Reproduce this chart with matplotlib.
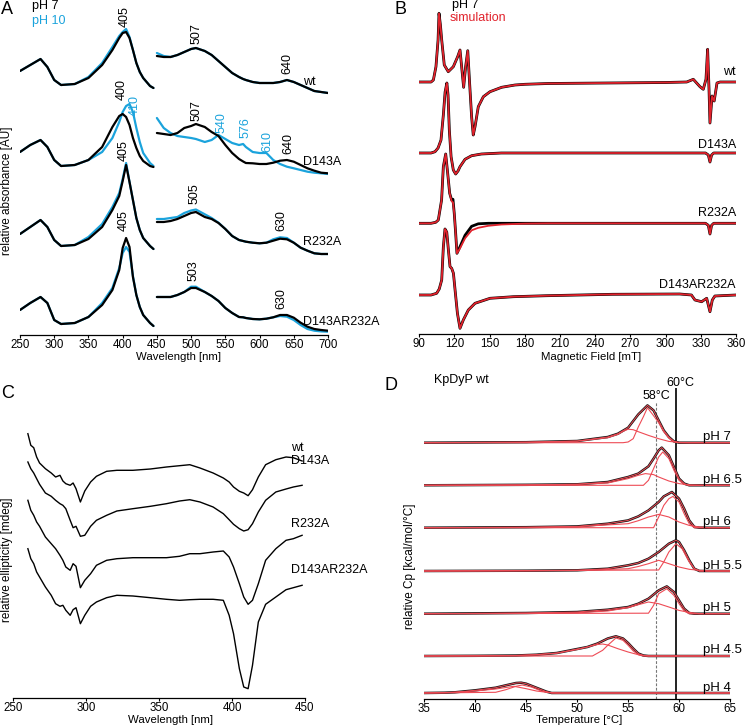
import matplotlib
matplotlib.use("Agg")
import matplotlib.pyplot as plt

plt.rcParams['font.family'] = ['Liberation Sans', 'DejaVu Sans']
plt.rcParams['font.size'] = 9

BLUE = '#1BA3DC'
RED = '#E1222C'
FIT = '#EE4B55'

# ---- A: UV-vis absorbance (pH 7 black, pH 10 blue) ----
uv_nm = [250, 265, 280, 290, 300, 310, 330, 350, 370, 385, 395, 400, 405, 410, 415, 420, 425, 430, 440, 445]
vis_nm = [450, 460, 470, 480, 490, 500, 507, 520, 530, 540, 550, 560, 570, 576, 580, 590, 600, 610,
          620, 630, 640, 650, 660, 670, 680, 690, 700]

wt_uv_ph7 = [0.19, 0.25, 0.31, 0.23, 0.10, 0.05, 0.06, 0.12, 0.25, 0.40, 0.52, 0.57, 0.58, 0.52, 0.40, 0.27, 0.18, 0.12, 0.04, 0.02]
wt_uv_ph10 = [0.19, 0.25, 0.31, 0.23, 0.10, 0.05, 0.06, 0.13, 0.27, 0.43, 0.54, 0.58, 0.61, 0.53, 0.40, 0.27, 0.18, 0.12, 0.04, 0.02]
wt_vis_ph7 = [0.34, 0.33, 0.33, 0.35, 0.38, 0.41, 0.42, 0.39, 0.35, 0.29, 0.23, 0.17, 0.13, 0.11, 0.10, 0.08, 0.07, 0.07,
              0.07, 0.08, 0.10, 0.08, 0.05, 0.02, -0.01, -0.02, -0.03]
wt_vis_ph10 = [0.37, 0.34, 0.33, 0.35, 0.38, 0.41, 0.42, 0.39, 0.35, 0.29, 0.23, 0.17, 0.13, 0.11, 0.10, 0.08, 0.07, 0.07,
               0.07, 0.08, 0.10, 0.08, 0.05, 0.02, -0.01, -0.02, -0.03]

d_uv_ph7 = [0.18, 0.25, 0.30, 0.23, 0.10, 0.04, 0.05, 0.10, 0.23, 0.43, 0.54, 0.56, 0.53, 0.45, 0.32, 0.22, 0.14, 0.09, 0.04, 0.03]
d_uv_ph10 = [0.18, 0.25, 0.30, 0.23, 0.10, 0.04, 0.05, 0.10, 0.18, 0.32, 0.48, 0.58, 0.64, 0.66, 0.58, 0.42, 0.28, 0.17, 0.07, 0.04]
d_vis_ph7 = [0.37, 0.36, 0.35, 0.37, 0.42, 0.44, 0.46, 0.43, 0.38, 0.34, 0.25, 0.17, 0.11, 0.085, 0.07, 0.067, 0.06, 0.06,
             0.073, 0.093, 0.10, 0.083, 0.05, 0.017, -0.007, -0.027, -0.033]
d_vis_ph10 = [0.52, 0.42, 0.37, 0.34, 0.33, 0.32, 0.31, 0.28, 0.30, 0.35, 0.31, 0.27, 0.25, 0.26, 0.23, 0.18, 0.17, 0.17,
              0.10, 0.06, 0.033, 0.017, 0.0, -0.017, -0.027, -0.033, -0.04]

r_uv_ph7 = [0.16, 0.23, 0.30, 0.23, 0.10, 0.04, 0.05, 0.11, 0.23, 0.40, 0.54, 0.69, 0.85, 0.68, 0.50, 0.32, 0.20, 0.12, 0.04, 0.01]
r_uv_ph10 = [0.16, 0.23, 0.30, 0.23, 0.10, 0.04, 0.05, 0.13, 0.26, 0.43, 0.57, 0.71, 0.87, 0.68, 0.50, 0.32, 0.20, 0.12, 0.04, 0.01]
r_vis_ph7 = [0.28, 0.28, 0.29, 0.31, 0.34, 0.37, 0.38, 0.33, 0.31, 0.27, 0.21, 0.14, 0.10, 0.09, 0.083, 0.073, 0.067, 0.073,
             0.093, 0.113, 0.107, 0.073, 0.023, -0.007, -0.033, -0.04, -0.04]
r_vis_ph10 = [0.31, 0.31, 0.32, 0.33, 0.37, 0.395, 0.405, 0.357, 0.32, 0.273, 0.21, 0.14, 0.10, 0.09, 0.083, 0.073, 0.067, 0.073,
              0.107, 0.127, 0.12, 0.073, 0.023, -0.007, -0.033, -0.04, -0.04]

dr_uv_ph7 = [0.22, 0.29, 0.35, 0.29, 0.12, 0.08, 0.09, 0.15, 0.27, 0.42, 0.62, 0.84, 0.94, 0.85, 0.55, 0.37, 0.25, 0.17, 0.09, 0.06]
dr_uv_ph10 = [0.22, 0.29, 0.35, 0.29, 0.12, 0.08, 0.09, 0.15, 0.29, 0.44, 0.64, 0.79, 0.85, 0.80, 0.56, 0.37, 0.25, 0.17, 0.09, 0.06]
dr_vis_ph7 = [0.35, 0.35, 0.35, 0.37, 0.40, 0.44, 0.44, 0.40, 0.36, 0.31, 0.24, 0.19, 0.15, 0.147, 0.14, 0.13, 0.127, 0.133,
              0.147, 0.17, 0.17, 0.143, 0.093, 0.053, 0.03, 0.02, 0.013]
dr_vis_ph10 = [0.35, 0.35, 0.35, 0.37, 0.40, 0.453, 0.453, 0.40, 0.36, 0.31, 0.24, 0.19, 0.15, 0.147, 0.14, 0.13, 0.127, 0.133,
               0.147, 0.16, 0.153, 0.12, 0.07, 0.03, 0.013, 0.006, 0.003]

# ---- B: EPR spectra (experiment black, simulation red) ----
epr_wt_mT = [90, 100, 102, 104.2, 106, 106.8, 108, 109.1, 111.3, 114.7, 119, 122.7, 124.7, 126.1, 127.8, 129.5, 131.3,
             132.9, 134.6, 136, 137.5, 140.3, 144.6, 150.3, 160.2, 171.6, 180, 200, 250, 300, 318, 323.6, 329.3,
             332.1, 334.4, 335.8, 337, 337.8, 339.6, 341.4, 343.8, 346.4, 360]
epr_wt = [0, 0, 0.02, 0.153, 0.42, 0.687, 0.57, 0.42, 0.17, 0.103, 0.153, 0.253, 0.32, 0.153, -0.053, 0.153, 0.313,
          -0.013, -0.347, -0.53, -0.447, -0.247, -0.147, -0.097, -0.053, -0.03, -0.023, -0.015, -0.01, -0.005, 0, 0.027,
          -0.047, -0.073, 0.027, 0.327, -0.073, -0.41, -0.14, -0.19, -0.01, 0, 0]

epr_d_mT = [90, 100, 103.4, 106, 108.5, 110.5, 112, 113.5, 114.5, 115.6, 117.1, 119, 121, 123, 124.7, 129, 134.6, 143,
            160, 334, 336.4, 337.8, 339.2, 341, 360]
epr_d = [0, 0, 0.013, 0.05, 0.13, 0.38, 0.61, 0.70, 0.58, 0.23, -0.037, -0.17, -0.21, -0.18, -0.137, -0.063, -0.027,
         -0.01, 0, 0, -0.02, -0.09, -0.02, 0, 0]

epr_r_mT = [90, 100, 104, 106.2, 109, 110.5, 112.5, 114.2, 115.9, 117.6, 118.7, 119.8, 121, 122.1, 124.7, 129, 134.6,
            140.3, 148.8, 160, 180, 200, 334, 336.4, 337.8, 339.2, 341, 360]
epr_r_exp = [0, 0, 0.01, 0.033, 0.233, 0.567, 0.693, 0.5, 0.3, 0.233, 0.24, 0.1, -0.1, -0.3, -0.234, -0.12, -0.03,
             -0.005, 0, 0, 0, 0, 0, -0.02, -0.107, -0.02, 0, 0]
epr_r_sim = [0, 0, 0.01, 0.033, 0.233, 0.567, 0.693, 0.5, 0.3, 0.22, 0.21, 0.1, -0.1, -0.3, -0.25, -0.15, -0.07,
             -0.045, -0.025, -0.012, -0.003, 0, 0, -0.02, -0.107, -0.02, 0, 0]

epr_dr_mT = [90, 100, 104.8, 107, 109.1, 110.5, 111.9, 113.4, 114.8, 116.2, 117.6, 119.1, 120.5, 122.5, 124.7, 127.5,
             131.8, 137.5, 150.3, 170.2, 198.6, 255, 312, 322, 325, 330.7, 335, 337.8, 339.8, 342, 360]
epr_dr = [0, 0, 0.017, 0.06, 0.15, 0.48, 0.66, 0.63, 0.45, 0.283, 0.267, 0.217, 0.05, -0.183, -0.333, -0.25, -0.15,
          -0.083, -0.033, -0.017, -0.007, 0.007, 0.01, 0, -0.05, -0.067, -0.033, -0.167, -0.05, -0.01, 0]

# ---- C: CD spectra ----
cd_nm = [260, 262, 264, 266, 268, 272, 276, 279, 282, 284, 286, 289, 291, 293, 296, 299, 303, 307, 314, 321,
         332, 344, 355, 364, 371, 378, 387, 394, 398, 401, 405, 408, 411, 414, 418, 423, 430, 437, 442, 448]
cd_wt = [0.633, 0.517, 0.493, 0.40, 0.34, 0.283, 0.24, 0.20, 0.217, 0.16, 0.133, 0.117, 0.14, 0.083, -0.05, 0.06,
         0.15, 0.207, 0.257, 0.267, 0.267, 0.28, 0.30, 0.313, 0.323, 0.29, 0.24, 0.19, 0.15, 0.10, 0.057, 0.04,
         0.013, 0.073, 0.20, 0.323, 0.373, 0.40, 0.393, 0.36]
cd_d143a = [0.80, 0.733, 0.69, 0.633, 0.577, 0.49, 0.457, 0.417, 0.383, 0.367, 0.333, 0.217, 0.143, 0.157, 0.057,
            0.067, 0.157, 0.217, 0.267, 0.31, 0.333, 0.357, 0.383, 0.41, 0.423, 0.40, 0.35, 0.283, 0.223, 0.177,
            0.133, 0.11, 0.123, 0.183, 0.30, 0.417, 0.50, 0.53, 0.55, 0.567]
cd_r232a = [0.867, 0.767, 0.717, 0.65, 0.607, 0.50, 0.433, 0.383, 0.317, 0.267, 0.20, 0.167, 0.233, 0.207, -0.007,
            0.067, 0.133, 0.217, 0.267, 0.283, 0.293, 0.293, 0.293, 0.307, 0.333, 0.333, 0.35, 0.36, 0.30, 0.20,
            0.033, -0.10, -0.173, -0.133, 0.033, 0.267, 0.383, 0.467, 0.483, 0.517]
cd_dr = [1.383, 1.283, 1.233, 1.15, 1.10, 1.00, 0.917, 0.833, 0.807, 0.817, 0.767, 0.717, 0.773, 0.793, 0.633,
         0.717, 0.807, 0.85, 0.893, 0.917, 0.91, 0.893, 0.877, 0.867, 0.873, 0.877, 0.877, 0.867, 0.717, 0.533,
         0.183, 0.0, -0.017, 0.217, 0.65, 0.827, 0.90, 0.973, 0.993, 1.017]

# ---- D: DSC thermograms (total + two fitted components) ----
ph7_T = [35, 45, 47, 50, 53, 54, 55, 56, 56.9, 57.5, 58, 58.5, 59, 59.5, 60, 65]
ph7_cp = [0, 0.005, 0.01, 0.017, 0.057, 0.09, 0.15, 0.283, 0.373, 0.323, 0.223, 0.123, 0.057, 0.013, 0, 0]
ph7_Tb = [35, 45, 50, 53, 54, 54.5, 55, 55.5, 56, 57, 58, 59, 60, 61, 65]
ph7_b = [0, 0.005, 0.015, 0.05, 0.083, 0.113, 0.135, 0.13, 0.11, 0.073, 0.04, 0.013, 0.003, 0, 0]
ph7_Tn = [35, 54.5, 55, 55.5, 56, 56.5, 56.9, 57.5, 58, 58.5, 59, 59.5, 60, 65]
ph7_n = [0, 0, 0.007, 0.04, 0.157, 0.26, 0.35, 0.27, 0.20, 0.11, 0.045, 0.01, 0, 0]

ph65_T = [35, 45, 50, 53, 55, 56, 57, 57.5, 58, 58.3, 59, 59.5, 60, 60.5, 61, 65]
ph65_cp = [0, 0.005, 0.01, 0.033, 0.083, 0.117, 0.19, 0.267, 0.35, 0.377, 0.30, 0.183, 0.067, 0.017, 0, 0]
ph65_Tb = [35, 45, 50, 53, 55, 56, 56.7, 57.5, 58, 59, 60, 61, 62, 65]
ph65_b = [0, 0.003, 0.01, 0.023, 0.067, 0.1, 0.117, 0.107, 0.083, 0.043, 0.017, 0.003, 0, 0]
ph65_Tn = [35, 56.5, 57, 57.5, 58, 58.4, 59, 59.5, 60, 60.5, 61, 65]
ph65_n = [0, 0, 0.05, 0.167, 0.283, 0.333, 0.267, 0.15, 0.05, 0.01, 0, 0]

ph6_T = [35, 45, 50, 53, 55, 56, 57, 58, 58.5, 59.3, 60, 60.5, 61, 61.5, 62, 65]
ph6_cp = [0, 0.005, 0.013, 0.04, 0.073, 0.113, 0.173, 0.257, 0.313, 0.357, 0.29, 0.19, 0.073, 0.007, 0, 0]
ph6_Tb = [35, 45, 50, 55, 56, 57, 58, 59, 60, 61, 62, 63, 65]
ph6_b = [0, 0.003, 0.01, 0.04, 0.07, 0.107, 0.133, 0.107, 0.057, 0.023, 0.007, 0, 0]
ph6_Tn = [35, 57.5, 58, 58.5, 59, 59.4, 60, 60.5, 61, 61.5, 65]
ph6_n = [0, 0, 0.107, 0.223, 0.29, 0.313, 0.257, 0.14, 0.04, 0, 0]

ph55_T = [35, 45, 50, 53, 55, 56, 57, 58, 59, 59.7, 60, 60.5, 61, 61.5, 62, 65]
ph55_cp = [0, 0.003, 0.007, 0.023, 0.057, 0.08, 0.123, 0.19, 0.273, 0.307, 0.29, 0.207, 0.107, 0.023, 0, 0]
ph55_Tb = [35, 45, 50, 55, 56, 57, 58, 59, 60, 61, 62, 63, 65]
ph55_b = [0, 0.002, 0.005, 0.023, 0.045, 0.073, 0.107, 0.073, 0.04, 0.017, 0.007, 0, 0]
ph55_Tn = [35, 58, 58.5, 59, 59.7, 60.3, 61, 61.5, 62, 65]
ph55_n = [0, 0.01, 0.09, 0.19, 0.273, 0.223, 0.09, 0.023, 0, 0]

ph5_T = [35, 45, 50, 53, 55, 56, 57, 58, 58.8, 59.5, 60, 60.5, 61, 61.5, 65]
ph5_cp = [0, 0.007, 0.017, 0.04, 0.067, 0.10, 0.15, 0.233, 0.273, 0.217, 0.133, 0.05, 0.007, 0, 0]
ph5_Tb = [35, 45, 50, 53, 55, 56, 57, 58, 59, 60, 61, 62, 65]
ph5_b = [0, 0.004, 0.01, 0.027, 0.06, 0.09, 0.117, 0.10, 0.067, 0.033, 0.013, 0, 0]
ph5_Tn = [35, 57, 57.5, 58, 58.8, 59.5, 60, 60.5, 61, 65]
ph5_n = [0, 0.005, 0.083, 0.20, 0.25, 0.183, 0.10, 0.027, 0, 0]

ph45_T = [35, 40, 44, 46, 48, 50, 51, 52, 53, 53.8, 54.5, 55, 55.5, 56, 56.5, 57, 65]
ph45_cp = [0, 0.002, 0.005, 0.013, 0.03, 0.07, 0.09, 0.125, 0.175, 0.197, 0.175, 0.13, 0.075, 0.025, 0.005, 0, 0]
ph45_Tb = [35, 40, 44, 46, 48, 50, 51, 52, 52.5, 53, 54, 55, 56, 57, 65]
ph45_b = [0, 0.002, 0.005, 0.013, 0.028, 0.065, 0.09, 0.115, 0.12, 0.11, 0.073, 0.04, 0.013, 0, 0]
ph45_Tn = [35, 51.5, 52.5, 53, 53.8, 54.5, 55, 55.5, 56, 56.5, 65]
ph45_n = [0, 0, 0.057, 0.107, 0.18, 0.157, 0.107, 0.05, 0.013, 0, 0]

ph4_T = [35, 37, 38, 40, 42, 43, 44, 44.5, 45, 46, 47, 47.5, 65]
ph4_cp = [0, 0.003, 0.007, 0.027, 0.053, 0.077, 0.10, 0.103, 0.093, 0.053, 0.013, 0, 0]
ph4_Tb = [35, 37, 40, 42, 43.8, 45, 46, 47, 48, 65]
ph4_b = [0, 0.003, 0.02, 0.04, 0.067, 0.043, 0.02, 0.007, 0, 0]
ph4_Tn = [35, 42, 43, 44, 44.6, 45.5, 46.5, 47.5, 65]
ph4_n = [0, 0.007, 0.033, 0.067, 0.08, 0.06, 0.02, 0, 0]

W, H = 745, 727
fig = plt.figure(figsize=(W / 100, H / 100), dpi=100)


def box(x0, x1, ytop, ybot):
    return [x0 / W, 1 - ybot / H, (x1 - x0) / W, (ybot - ytop) / H]


def style(ax):
    for s in ('left', 'right', 'top'):
        ax.spines[s].set_visible(False)
    ax.spines['bottom'].set_linewidth(0.9)
    ax.set_yticks([])
    ax.tick_params(axis='x', direction='out', length=2.5, width=0.8, pad=0.3, labelsize=8.3)
    ax.patch.set_alpha(0)


def xlabel(xc, yc, s):
    fig.text(xc / W, 1 - yc / H, s, ha='center', va='center', fontsize=8.2)


# Panel A
axA = fig.add_axes(box(20, 328, 0, 335))
style(axA)
axA.set_xlim(250, 700)
axA.set_ylim(0, 3.35)
axA.set_xticks(range(250, 701, 50))
xlabel(179, 357.5, 'Wavelength [nm]')

a_traces = [
    (2.45, wt_uv_ph7, wt_uv_ph10, wt_vis_ph7, wt_vis_ph10),
    (1.65, d_uv_ph7, d_uv_ph10, d_vis_ph7, d_vis_ph10),
    (0.85, r_uv_ph7, r_uv_ph10, r_vis_ph7, r_vis_ph10),
    (0.03, dr_uv_ph7, dr_uv_ph10, dr_vis_ph7, dr_vis_ph10),
]
for off, uv7, uv10, vis7, vis10 in a_traces:
    axA.plot(uv_nm, [off + v for v in uv10], color=BLUE, lw=1.6, solid_capstyle='round')
    axA.plot(vis_nm, [off + v for v in vis10], color=BLUE, lw=1.6, solid_capstyle='round')
    axA.plot(uv_nm, [off + v for v in uv7], color='black', lw=1.6, solid_capstyle='round')
    axA.plot(vis_nm, [off + v for v in vis7], color='black', lw=1.6, solid_capstyle='round')

rot = dict(rotation=90, ha='center', va='center', fontsize=9)
for x, y, s, c in [(403, 3.18, '405', 'black'), (508, 3.01, '507', 'black'), (640, 2.71, '640', 'black'),
                   (399, 2.45, '400', 'black'), (417, 2.30, '410', BLUE), (508, 2.24, '507', 'black'),
                   (545, 2.12, '540', BLUE), (579, 2.07, '576', BLUE), (611, 1.94, '610', BLUE),
                   (641.5, 1.91, '640', 'black'), (401, 1.84, '405', 'black'), (505.5, 1.41, '505', 'black'),
                   (632.5, 1.14, '630', 'black'), (402, 1.14, '405', 'black'), (503, 0.64, '503', 'black'),
                   (631.5, 0.36, '630', 'black')]:
    axA.text(x, y, s, color=c, **rot)
for y, s in [(2.53, 'wt'), (1.73, 'D143A'), (0.93, 'R232A'), (0.13, 'D143AR232A')]:
    axA.text(663, y, s, ha='left', va='center', fontsize=9, clip_on=False)

# Panel B
axB = fig.add_axes(box(419.3, 736, 0, 334))
style(axB)
axB.set_xlim(90, 360)
axB.set_ylim(0, 3.34)
axB.set_xticks(range(90, 361, 30))
xlabel(591, 357.5, 'Magnetic Field [mT]')

b_traces = [
    (2.52, epr_wt_mT, epr_wt, epr_wt),
    (1.81, epr_d_mT, epr_d, epr_d),
    (1.107, epr_r_mT, epr_r_exp, epr_r_sim),
    (0.39, epr_dr_mT, epr_dr, epr_dr),
]
for off, mT, exp, sim in b_traces:
    axB.plot(mT, [off + v for v in exp], color='black', lw=2.0)
    axB.plot(mT, [off + v for v in sim], color=RED, lw=1.3)
for y, s in [(2.62, 'wt'), (1.89, 'D143A'), (1.21, 'R232A'), (0.49, 'D143AR232A')]:
    axB.text(360, y, s, ha='right', va='center', fontsize=9)

# Panel C
axC = fig.add_axes(box(13.3, 305, 417, 698))
style(axC)
axC.set_xlim(250, 450)
axC.set_ylim(0, 2.81)
axC.set_xticks(range(250, 451, 50))
xlabel(170, 720, 'Wavelength [nm]')
for off, vals in [(2.01, cd_wt), (1.56, cd_d143a), (1.11, cd_r232a), (0.11, cd_dr)]:
    axC.plot(cd_nm, [off + v for v in vals], color='black', lw=1.0)
for y, s in [(2.50, 'wt'), (2.37, 'D143A'), (1.74, 'R232A'), (1.28, 'D143AR232A')]:
    axC.text(440.5, y, s, ha='left', va='center', fontsize=9, clip_on=False)

# Panel D
axD = fig.add_axes(box(424.3, 730, 372, 698.7))
style(axD)
axD.set_xlim(35, 65)
axD.set_ylim(0, 3.267)
axD.set_xticks(range(35, 66, 5))
xlabel(579, 720, 'Temperature [°C]')

d_traces = [
    (2.56, 'pH 7', ph7_T, ph7_cp, ph7_Tb, ph7_b, ph7_Tn, ph7_n),
    (2.134, 'pH 6.5', ph65_T, ph65_cp, ph65_Tb, ph65_b, ph65_Tn, ph65_n),
    (1.71, 'pH 6', ph6_T, ph6_cp, ph6_Tb, ph6_b, ph6_Tn, ph6_n),
    (1.277, 'pH 5.5', ph55_T, ph55_cp, ph55_Tb, ph55_b, ph55_Tn, ph55_n),
    (0.85, 'pH 5', ph5_T, ph5_cp, ph5_Tb, ph5_b, ph5_Tn, ph5_n),
    (0.427, 'pH 4.5', ph45_T, ph45_cp, ph45_Tb, ph45_b, ph45_Tn, ph45_n),
    (0.057, 'pH 4', ph4_T, ph4_cp, ph4_Tb, ph4_b, ph4_Tn, ph4_n),
]
axD.plot([57.74, 57.74], [0, 2.97], color='#777777', lw=0.8, ls=(0, (2.5, 1.5)))
axD.plot([59.7, 59.7], [0, 3.10], color='#222222', lw=1.4)
for off, lab, T, cp, Tb, b, Tn, n in d_traces:
    axD.plot(T, [off + v for v in cp], color='#151515', lw=1.8)
    axD.plot(Tb, [off + v for v in b], color=FIT, lw=0.8)
    axD.plot(Tn, [off + v for v in n], color=FIT, lw=0.8)
    axD.plot(T, [off + v for v in cp], color=FIT, lw=0.7)
    axD.text(62.35, off + 0.025, lab, ha='left', va='baseline', fontsize=9.5)
axD.text(36.0, 3.19, 'KpDyP wt', ha='left', va='center', fontsize=9)
axD.text(60.1, 3.16, '60°C', ha='center', va='center', fontsize=9)
axD.text(57.8, 3.03, '58°C', ha='center', va='center', fontsize=9)

# y labels, panel letters, legends
fig.text(6.7 / W, 1 - 191 / H, 'relative absorbance [AU]', rotation=90, ha='center', va='center', fontsize=8.5)
fig.text(6.7 / W, 1 - 560 / H, 'relative ellipticity [mdeg]', rotation=90, ha='center', va='center', fontsize=8.5)
fig.text(410 / W, 1 - 566 / H, 'relative Cp [kcal/mol/°C]', rotation=90, ha='center', va='center', fontsize=8.5)

for x, y, s in [(1, 9, 'A'), (395, 9, 'B'), (1, 394, 'C'), (385, 385, 'D')]:
    fig.text(x / W, 1 - y / H, s, ha='left', va='center', fontsize=13)
fig.text(32 / W, 1 - 6 / H, 'pH 7', ha='left', va='center', fontsize=9)
fig.text(32 / W, 1 - 21 / H, 'pH 10', ha='left', va='center', fontsize=9, color=BLUE)
fig.text(452 / W, 1 - 5 / H, 'pH 7', ha='left', va='center', fontsize=9)
fig.text(450 / W, 1 - 18 / H, 'simulation', ha='left', va='center', fontsize=9, color=RED)

fig.savefig('out.png', dpi=100)
